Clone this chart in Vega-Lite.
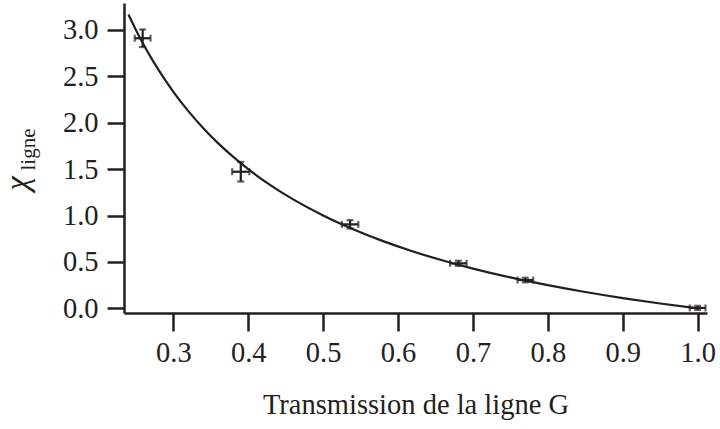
{
  "$schema": "https://vega.github.io/schema/vega-lite/v6.json",
  "width": 583,
  "height": 310,
  "autosize": {"type": "none"},
  "padding": {"left": 124, "top": 3, "right": 13, "bottom": 116},
  "background": "white",
  "config": {
    "view": {"stroke": null},
    "font": "Liberation Serif, Times New Roman, serif",
    "axis": {
      "grid": false,
      "domainColor": "#231f20",
      "domainWidth": 2.5,
      "tickColor": "#231f20",
      "tickWidth": 2.5,
      "labelColor": "#231f20",
      "titleColor": "#231f20",
      "labelFont": "Liberation Serif, Times New Roman, serif",
      "titleFont": "Liberation Serif, Times New Roman, serif",
      "titleFontWeight": "normal",
      "labelFontSize": 28.5
    }
  },
  "datasets": {
    "points": [
      {"T": 0.259, "chi": 2.91, "T_err": 0.0105, "chi_err": 0.095},
      {"T": 0.39, "chi": 1.472, "T_err": 0.0115, "chi_err": 0.105},
      {"T": 0.536, "chi": 0.905, "T_err": 0.011, "chi_err": 0.045},
      {"T": 0.6805, "chi": 0.485, "T_err": 0.011, "chi_err": 0.028},
      {"T": 0.77, "chi": 0.305, "T_err": 0.0105, "chi_err": 0.025},
      {"T": 1.0, "chi": 0.005, "T_err": 0.0105, "chi_err": 0.022}
    ],
    "curve": [
      {"T": 0.24, "chi": 3.1667},
      {"T": 0.25, "chi": 3.0},
      {"T": 0.26, "chi": 2.8462},
      {"T": 0.27, "chi": 2.7037},
      {"T": 0.28, "chi": 2.5714},
      {"T": 0.30, "chi": 2.3333},
      {"T": 0.32, "chi": 2.125},
      {"T": 0.34, "chi": 1.9412},
      {"T": 0.36, "chi": 1.7778},
      {"T": 0.38, "chi": 1.6316},
      {"T": 0.40, "chi": 1.5},
      {"T": 0.43, "chi": 1.3256},
      {"T": 0.46, "chi": 1.1739},
      {"T": 0.50, "chi": 1.0},
      {"T": 0.54, "chi": 0.8519},
      {"T": 0.58, "chi": 0.7241},
      {"T": 0.62, "chi": 0.6129},
      {"T": 0.66, "chi": 0.5152},
      {"T": 0.70, "chi": 0.4286},
      {"T": 0.75, "chi": 0.3333},
      {"T": 0.80, "chi": 0.25},
      {"T": 0.85, "chi": 0.1765},
      {"T": 0.90, "chi": 0.1111},
      {"T": 0.95, "chi": 0.0526},
      {"T": 0.995, "chi": 0.005}
    ]
  },
  "resolve": {"scale": {"y": "independent"}},
  "layer": [
    {
      "layer": [
        {
          "data": {"name": "curve"},
          "mark": {"type": "line", "color": "#231f20", "strokeWidth": 2.2, "interpolate": "monotone"},
          "encoding": {
            "x": {
              "field": "T", "type": "quantitative",
              "title": "Transmission de la ligne G",
              "scale": {"domain": [0.2341, 1.0125], "nice": false, "zero": false},
              "axis": {
                "values": [0.3, 0.4, 0.5, 0.6, 0.7, 0.8, 0.9, 1.0],
                "format": ".1f",
                "tickSize": 18,
                "labelPadding": 7,
                "titleFontSize": 28.5,
                "titlePadding": 24
              }
            },
            "y": {
              "field": "chi", "type": "quantitative",
              "title": "χ",
              "scale": {"domain": [-0.05, 3.29], "nice": false, "zero": false},
              "axis": {
                "values": [0, 0.5, 1, 1.5, 2, 2.5, 3],
                "format": ".1f",
                "tickSize": 17,
                "labelPadding": 9,
                "titleFontSize": 33,
                "titleFontStyle": "italic",
                "titleAngle": -90,
                "titleAlign": "center",
                "titleBaseline": "alphabetic",
                "titleX": -97,
                "titleY": 180
              }
            }
          }
        },
        {
          "data": {"name": "points"},
          "mark": {"type": "errorbar", "color": "#231f20", "thickness": 2.2, "ticks": {"size": 7, "thickness": 2.2, "color": "#231f20"}},
          "encoding": {
            "x": {"field": "T", "type": "quantitative", "title": "Transmission de la ligne G"},
            "xError": {"field": "T_err"},
            "y": {"field": "chi", "type": "quantitative", "title": "χ"}
          }
        }
      ]
    },
    {
      "data": {"name": "points"},
      "mark": {"type": "errorbar", "color": "#231f20", "thickness": 2.2, "ticks": {"size": 7, "thickness": 2.2, "color": "#231f20"}},
      "encoding": {
        "x": {"field": "T", "type": "quantitative", "title": "Transmission de la ligne G"},
        "y": {
          "field": "chi", "type": "quantitative",
          "title": "ligne",
          "scale": {"domain": [-0.05, 3.29], "nice": false, "zero": false},
          "axis": {
            "orient": "left",
            "labels": false,
            "ticks": false,
            "domain": false,
            "titleFontSize": 21,
            "titleAngle": -90,
            "titleAlign": "center",
            "titleBaseline": "alphabetic",
            "titleX": -90,
            "titleY": 146
          }
        },
        "yError": {"field": "chi_err"}
      }
    }
  ]
}
